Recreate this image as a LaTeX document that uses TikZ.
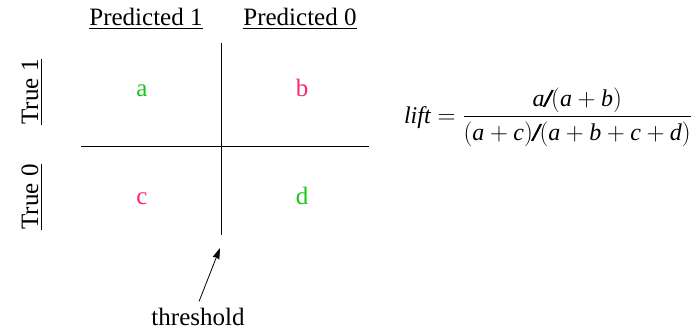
\documentclass[tikz,border=0pt]{standalone}
\usepackage{amsmath}
\usepackage{fontspec}
\setmainfont{Liberation Serif}
\newfontfamily\slashfont[FakeBold=4]{Liberation Serif}
\newcommand{\heavyslash}{\mathord{\text{\slashfont\itshape /}}}
\usetikzlibrary{arrows.meta}
\definecolor{hitgreen}{RGB}{20,200,20}
\definecolor{misspink}{RGB}{250,40,110}

\begin{document}
\begin{tikzpicture}[
    x=1pt, y=-1pt,
    head/.style={anchor=base,font=\fontsize{25}{28}\selectfont},
    cell/.style={anchor=base,font=\fontsize{25}{28}\selectfont},
    side/.style={anchor=base,rotate=90,font=\fontsize{25}{28}\selectfont},
    grid/.style={line width=0.8pt},
    >={Stealth[length=11pt,width=7pt,inset=1pt]}
]
\useasboundingbox (0,0) rectangle (698,333);
% headers
\node[head] (p1) at (146,25) {\underline{Predicted 1}};
\node[head] (p0) at (300,25) {\underline{Predicted 0}};
\node[side] (t1) at (38,92) {\underline{True 1}};
\node[side] (t0) at (38,197) {\underline{True 0}};
% cells
\node[cell,text=hitgreen] (a) at (142,96) {a};
\node[cell,text=misspink] (b) at (302,96) {b};
\node[cell,text=misspink] (c) at (142,204) {c};
\node[cell,text=hitgreen] (d) at (302,204) {d};
% the two axes of the table
\coordinate (vtop) at (221,43);
\coordinate (vbot) at (221,235);
\coordinate (hl) at (81,146);
\coordinate (hr) at (369,146);
\draw[grid] (vtop) -- (vbot);
\draw[grid] (hl) -- (hr);
% threshold
\node[cell] (thr) at (198,325) {threshold};
\coordinate (tip) at (220,248);
\draw[->,line width=0.8pt,shorten <=3pt] (thr.north) -- (tip);
% formula
\node[font=\fontsize{24}{28}\selectfont] (lift) at (548,117)
  {$\textit{lift} = \dfrac{\textit{a}\heavyslash(\textit{a}+\textit{b})}{(\textit{a}+\textit{c})\heavyslash(\textit{a}+\textit{b}+\textit{c}+\textit{d})}$};
\end{tikzpicture}
\end{document}
